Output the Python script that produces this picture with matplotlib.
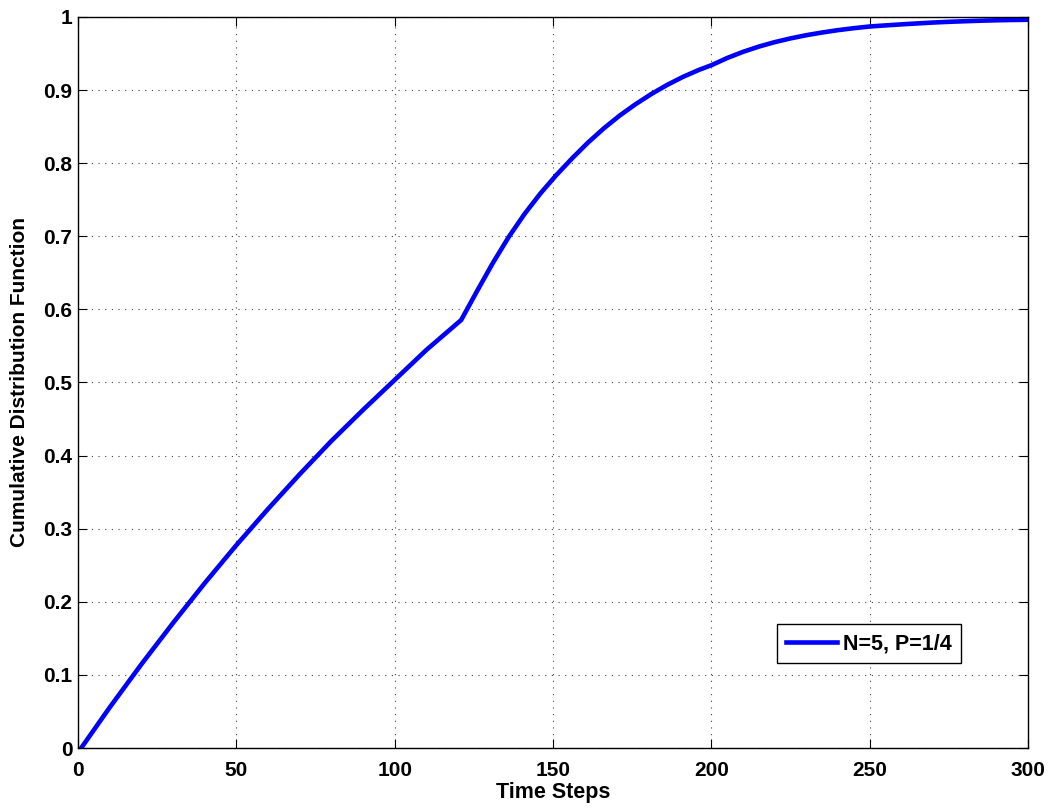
import numpy as np
import matplotlib
matplotlib.use("Agg")
import matplotlib.pyplot as plt

# CDF curve sampled over the time steps
time_steps = [1, 10, 20, 30, 40, 50, 60, 70, 80, 90, 100, 110, 121,
              126, 131, 136, 141, 146, 151, 156, 161, 166, 171, 176, 181,
              186, 191, 196, 200,
              205, 210, 215, 220, 225, 230, 235, 240, 245, 250,
              255, 260, 265, 270, 275, 280, 285, 290, 295, 300]
cdf_values = [0.0, 0.0555, 0.1145, 0.171, 0.2255, 0.2775, 0.327, 0.3745,
              0.42, 0.4625, 0.5035, 0.5445, 0.5855,
              0.625, 0.6635, 0.699, 0.7305, 0.7585, 0.7835, 0.8065, 0.828,
              0.8475, 0.865, 0.8805, 0.8945, 0.907, 0.918, 0.9275, 0.934,
              0.9439, 0.9523, 0.9595, 0.9656, 0.9707, 0.9751, 0.9788,
              0.982, 0.9847, 0.987,
              0.9885, 0.9899, 0.9912, 0.9924, 0.9934, 0.9942, 0.9949,
              0.9955, 0.9959, 0.9962]
series_label = "N=5, P=1/4"

x_ticks = [0, 50, 100, 150, 200, 250, 300]
y_ticks = [0, 0.1, 0.2, 0.3, 0.4, 0.5, 0.6, 0.7, 0.8, 0.9, 1]
y_tick_labels = ["0", "0.1", "0.2", "0.3", "0.4", "0.5", "0.6", "0.7",
                 "0.8", "0.9", "1"]

plt.rcParams["font.family"] = ["Liberation Sans", "DejaVu Sans"]
plt.rcParams["font.weight"] = "bold"

fig = plt.figure(figsize=(10.6, 8.09), dpi=100)
ax = fig.add_axes([0.0736, 0.0754, 0.8962, 0.9036])

ax.plot(time_steps, cdf_values, color="#0000ff", lw=3.3,
        solid_joinstyle="round", label=series_label)

ax.set_xlim(0, 300)
ax.set_ylim(0, 1)
ax.set_xticks(x_ticks)
ax.set_xticklabels([str(t) for t in x_ticks])
ax.set_yticks(y_ticks)
ax.set_yticklabels(y_tick_labels)

# matlab-like axes: inward ticks on all four sides, dotted grid
ax.tick_params(direction="in", length=6.5, width=0.8, top=True, right=True,
               labelsize=15, colors="black")
ax.tick_params(axis="x", pad=9)
ax.tick_params(axis="y", pad=4)
for s in ax.spines.values():
    s.set_linewidth(1.0)
    s.set_color("black")
ax.grid(True, color="0.25", lw=0.8, ls=(0, (1, 5)))
ax.set_axisbelow(True)

ax.set_xlabel("Time Steps", fontsize=15.5, fontweight="bold", labelpad=2)
ax.set_ylabel("Cumulative Distribution Function", fontsize=15,
              fontweight="bold", labelpad=10)

leg = ax.legend(loc="lower right", bbox_to_anchor=(0.929, 0.116),
                borderaxespad=0, fontsize=15.5, handlelength=2.4,
                handletextpad=0.25, borderpad=0.42, fancybox=False,
                framealpha=1, edgecolor="black")
leg.get_frame().set_linewidth(1.0)

fig.savefig("out.png", dpi=100)
